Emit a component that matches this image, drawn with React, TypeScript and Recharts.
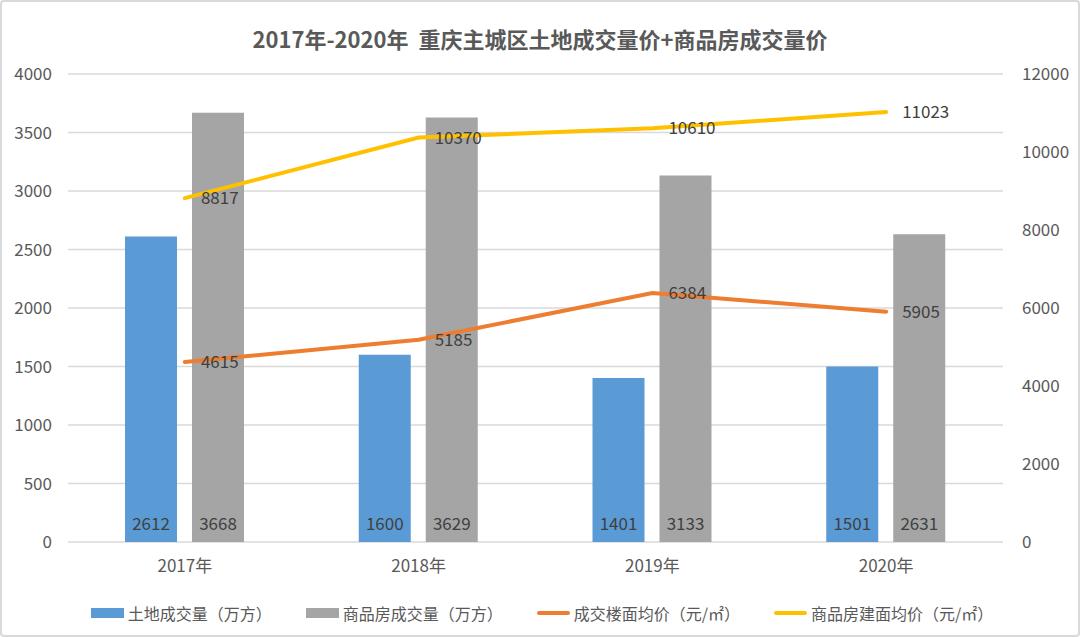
import React from 'react'
import { ComposedChart, Bar, Line, XAxis, YAxis, CartesianGrid, LabelList } from 'recharts'

const years = ['2017年', '2018年', '2019年', '2020年']
const landVolume = [2612, 1600, 1401, 1501]
const houseVolume = [3668, 3629, 3133, 2631]
const landPrice = [4615, 5185, 6384, 5905]
const housePrice = [8817, 10370, 10610, 11023]

const leftTicks = [0, 500, 1000, 1500, 2000, 2500, 3000, 3500, 4000]
const rightTicks = [0, 2000, 4000, 6000, 8000, 10000, 12000]

const legendItems = [
  { name: '土地成交量（万方）', color: '#5B9BD5', kind: 'bar' },
  { name: '商品房成交量（万方）', color: '#A5A5A5', kind: 'bar' },
  { name: '成交楼面均价（元/㎡）', color: '#ED7D31', kind: 'line' },
  { name: '商品房建面均价（元/㎡）', color: '#FFC000', kind: 'line' },
]

const FONT = '"Noto Sans CJK SC", "Noto Sans", sans-serif'
const tickStyle = { fontSize: 17, fill: '#595959', fontFamily: FONT }
const labelStyle = { fontSize: 17, fill: '#404040', fontFamily: FONT }

export default function App() {
  const data = years.map((year, i) => ({
    year,
    land: landVolume[i],
    house: houseVolume[i],
    landPrice: landPrice[i],
    housePrice: housePrice[i],
  }))

  return (
    <div
      style={{
        position: 'absolute',
        left: 0,
        top: 0,
        width: 1080,
        height: 637,
        background: '#fff',
        fontFamily: FONT,
        boxSizing: 'border-box',
        border: '2px solid #d9d9d9',
        borderRadius: 4,
        overflow: 'hidden',
      }}
    >
      <div
        style={{
          position: 'absolute',
          top: 22,
          left: 0,
          width: 1076,
          textAlign: 'center',
          fontSize: 22,
          fontWeight: 700,
          color: '#595959',
          lineHeight: '28px',
        }}
      >
        2017年-2020年&nbsp;&nbsp;重庆主城区土地成交量价+商品房成交量价
      </div>
      <div style={{ position: 'absolute', left: -2, top: -2 }}>
        <ComposedChart
          width={1080}
          height={637}
          data={data}
          margin={{ top: 74, right: 0, left: 0, bottom: 55 }}
          barSize={52}
          barGap={15}
        >
          <CartesianGrid vertical={false} stroke="#d9d9d9" strokeWidth={1.5} yAxisId="left" />
          <XAxis
            dataKey="year"
            axisLine={false}
            tickLine={false}
            tickSize={0}
            tickMargin={18}
            height={40}
            tick={tickStyle}
          />
          <YAxis
            yAxisId="left"
            orientation="left"
            domain={[0, 4000]}
            ticks={leftTicks}
            width={68}
            axisLine={false}
            tickLine={false}
            tickSize={0}
            tickMargin={16}
            tick={tickStyle}
          />
          <YAxis
            yAxisId="right"
            orientation="right"
            domain={[0, 12000]}
            ticks={rightTicks}
            width={77}
            axisLine={false}
            tickLine={false}
            tickSize={0}
            tickMargin={19}
            tick={tickStyle}
          />
          <Bar yAxisId="left" dataKey="land" fill="#5B9BD5" isAnimationActive={false}>
            <LabelList dataKey="land" position="insideBottom" offset={12} style={labelStyle} />
          </Bar>
          <Bar yAxisId="left" dataKey="house" fill="#A5A5A5" isAnimationActive={false}>
            <LabelList dataKey="house" position="insideBottom" offset={12} style={labelStyle} />
          </Bar>
          <Line
            yAxisId="right"
            type="linear"
            dataKey="landPrice"
            stroke="#ED7D31"
            strokeWidth={4}
            strokeLinecap="round"
            dot={false}
            isAnimationActive={false}
          >
            <LabelList dataKey="landPrice" position="right" offset={16} style={labelStyle} />
          </Line>
          <Line
            yAxisId="right"
            type="linear"
            dataKey="housePrice"
            stroke="#FFC000"
            strokeWidth={4}
            strokeLinecap="round"
            dot={false}
            isAnimationActive={false}
          >
            <LabelList dataKey="housePrice" position="right" offset={16} style={labelStyle} />
          </Line>
        </ComposedChart>
      </div>
      <div
        style={{
          position: 'absolute',
          top: 600,
          left: 0,
          width: 1080,
          display: 'flex',
          justifyContent: 'center',
          gap: 34,
          fontSize: 16,
          color: '#595959',
          lineHeight: '22px',
        }}
      >
        {legendItems.map((item) => (
          <div key={item.name} style={{ display: 'flex', alignItems: 'center', gap: 4 }}>
            <span
              style={{
                display: 'inline-block',
                width: 33,
                height: item.kind === 'bar' ? 10 : 4,
                borderRadius: item.kind === 'bar' ? 0 : 2,
                background: item.color,
              }}
            />
            <span>{item.name}</span>
          </div>
        ))}
      </div>
    </div>
  )
}
